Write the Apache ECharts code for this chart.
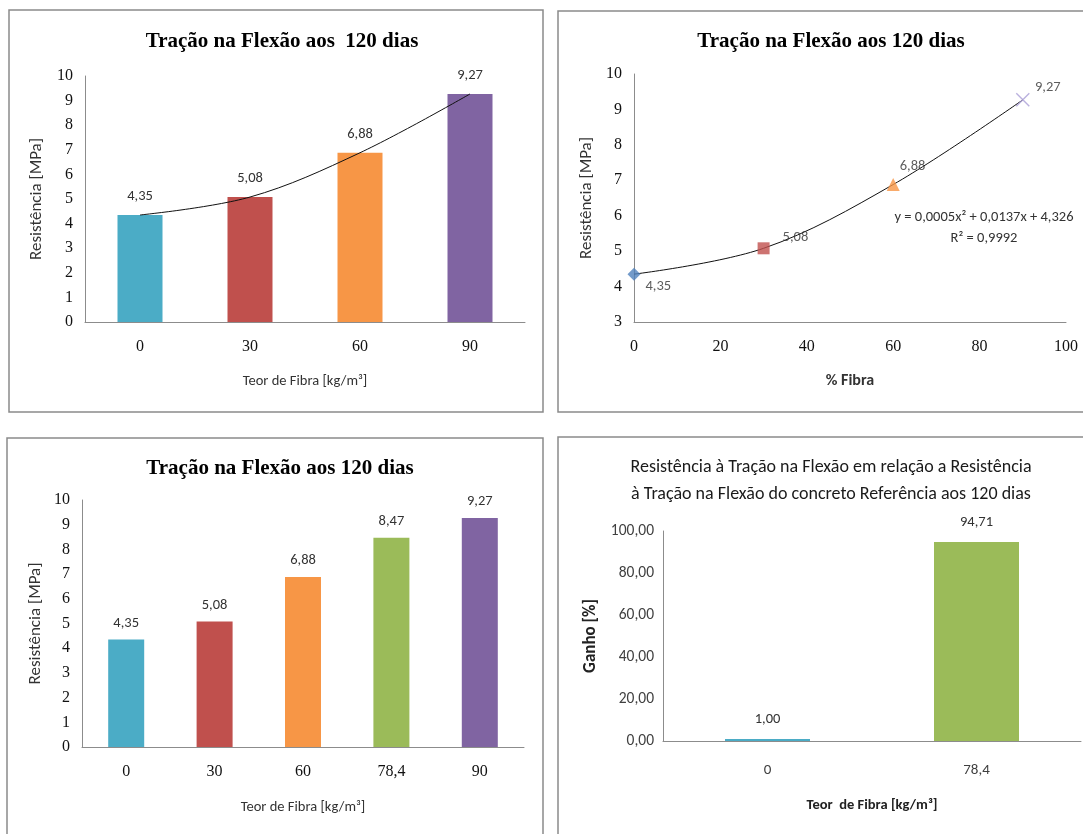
<!DOCTYPE html>
<html>
<head>
<meta charset="utf-8">
<title>Tração na Flexão aos 120 dias</title>
<script src="https://cdn.jsdelivr.net/npm/echarts@6/dist/echarts.min.js"></script>
<style>
  html, body { margin: 0; padding: 0; background: #fff; }
  #chart { width: 1083px; height: 834px; }
</style>
</head>
<body>
<div id="chart"></div>
<script>
// ---- data ----
const teorCats = ['0', '30', '60', '90'];
const resistencia = [4.35, 5.08, 6.88, 9.27];

const fibraPct = [0, 30, 60, 90];
const resistenciaPct = [4.35, 5.08, 6.88, 9.27];
const trendEquation = 'y = 0,0005x\u00B2 + 0,0137x + 4,326';
const trendR2 = 'R\u00B2 = 0,9992';

const teorCatsAll = ['0', '30', '60', '78,4', '90'];
const resistenciaAll = [4.35, 5.08, 6.88, 8.47, 9.27];

const ganhoCats = ['0', '78,4'];
const ganho = [1.00, 94.71];

// ---- styles ----
const barColors4 = ['#4BACC6', '#C0504D', '#F79646', '#8064A2'];
const barColors5 = ['#4BACC6', '#C0504D', '#F79646', '#9BBB59', '#8064A2'];
const ganhoColors = ['#4BACC6', '#9BBB59'];
const markerStyles = [
  { symbol: 'diamond', size: 13, color: '#4F81BD' },
  { symbol: 'rect', size: 12, color: '#C0504D' },
  { symbol: 'triangle', size: 13, color: '#F79646' },
  { symbol: 'path://M0,0L10,10M10,0L0,10', size: 13, color: '#A99ED6' }
];
const markerLabelOffsets = [[0, 12], [8, -11], [-5, -18], [0, -12]];

const SERIF = '"Liberation Serif", "Times New Roman", serif';
const SANS = 'Carlito, Lato, "Open Sans", sans-serif';
const comma = (v, d) => v.toFixed(d).replace('.', ',');

const axisLine = { show: true, lineStyle: { color: '#8C8C8C', width: 1 } };
const serifTicks = { fontFamily: SERIF, fontSize: 16, color: '#111' };
const sansName = { fontFamily: SANS, fontSize: 14.5, color: '#333' };
const sansNameV = { fontFamily: SANS, fontSize: 17, color: '#333' };

function catAxis(idx, cats, margin) {
  return {
    type: 'category', gridIndex: idx, data: cats,
    axisLine, axisTick: { show: false },
    axisLabel: Object.assign({ margin }, serifTicks)
  };
}
function valAxis(idx, min, max, interval, fmt, labelStyle, margin) {
  return {
    type: 'value', gridIndex: idx, min, max, interval,
    axisLine, axisTick: { show: false }, splitLine: { show: false },
    axisLabel: Object.assign({ margin, formatter: fmt }, labelStyle)
  };
}

const chart = echarts.init(document.getElementById('chart'), null, { renderer: 'canvas' });

const xAxes = [
  Object.assign(catAxis(0, teorCats, 17), {
    name: 'Teor de Fibra [kg/m\u00B3]', nameLocation: 'middle', nameGap: 52, nameTextStyle: sansName
  }),
  {
    type: 'value', gridIndex: 1, min: 0, max: 100, interval: 20,
    axisLine, axisTick: { show: false }, splitLine: { show: false },
    axisLabel: Object.assign({ margin: 17 }, serifTicks),
    name: '% Fibra', nameLocation: 'middle', nameGap: 51,
    nameTextStyle: Object.assign({}, sansName, { fontSize: 16, fontWeight: 'bold' })
  },
  Object.assign(catAxis(2, teorCatsAll, 17), {
    name: 'Teor de Fibra [kg/m\u00B3]', nameLocation: 'middle', nameGap: 53, nameTextStyle: sansName
  }),
  {
    type: 'category', gridIndex: 3, data: ganhoCats,
    axisLine, axisTick: { show: false },
    axisLabel: { margin: 22, fontFamily: SANS, fontSize: 15, color: '#404040' },
    name: 'Teor  de Fibra [kg/m\u00B3]', nameLocation: 'middle', nameGap: 57,
    nameTextStyle: Object.assign({}, sansName, { fontWeight: 'bold', color: '#222' })
  }
];

const yAxes = [
  Object.assign(valAxis(0, 0, 10, 1, null, serifTicks, 12), {
    name: 'Resist\u00EAncia [MPa]', nameLocation: 'middle', nameGap: 40, nameTextStyle: sansNameV
  }),
  Object.assign(valAxis(1, 3, 10, 1, null, serifTicks, 12), {
    name: 'Resist\u00EAncia [MPa]', nameLocation: 'middle', nameGap: 39, nameTextStyle: sansNameV
  }),
  Object.assign(valAxis(2, 0, 10, 1, null, serifTicks, 12), {
    name: 'Resist\u00EAncia [MPa]', nameLocation: 'middle', nameGap: 38, nameTextStyle: sansNameV
  }),
  Object.assign(valAxis(3, 0, 100, 20, v => comma(v, 2),
    { fontFamily: SANS, fontSize: 15.5, color: '#404040' }, 9), {
    name: 'Ganho [%]', nameLocation: 'middle', nameGap: 64,
    nameTextStyle: Object.assign({}, sansNameV, { fontWeight: 'bold', color: '#222' })
  })
];

const barLabel = (dist) => ({
  show: true, position: 'top', distance: dist,
  fontFamily: SANS, fontSize: 14.5, color: '#333',
  formatter: p => comma(p.value, 2)
});

const series = [
  {
    type: 'bar', xAxisIndex: 0, yAxisIndex: 0, barWidth: 45,
    data: resistencia.map((v, i) => ({ value: v, itemStyle: { color: barColors4[i] } })),
    label: barLabel(11)
  },
  {
    type: 'line', xAxisIndex: 0, yAxisIndex: 0, data: resistencia,
    smooth: 0.35, symbol: 'none', z: 5,
    lineStyle: { color: '#111', width: 1 }
  },
  {
    type: 'line', xAxisIndex: 1, yAxisIndex: 1,
    data: fibraPct.map((x, i) => [x, resistenciaPct[i]]),
    smooth: 0.35, symbol: 'none', z: 2,
    lineStyle: { color: '#111', width: 1 }
  },
  {
    type: 'scatter', xAxisIndex: 1, yAxisIndex: 1, z: 3,
    data: fibraPct.map((x, i) => {
      const m = markerStyles[i];
      const isCross = m.symbol.startsWith('path://');
      return {
        value: [x, resistenciaPct[i]],
        symbol: m.symbol, symbolSize: m.size,
        itemStyle: isCross
          ? { color: 'rgba(0,0,0,0)', borderColor: m.color, borderWidth: 1.4 }
          : { color: m.color },
        label: { offset: markerLabelOffsets[i] }
      };
    }),
    label: {
      show: true, position: 'right', distance: 5,
      fontFamily: SANS, fontSize: 14.5, color: '#333',
      formatter: p => comma(p.value[1], 2)
    }
  },
  {
    type: 'bar', xAxisIndex: 2, yAxisIndex: 2, barWidth: 36,
    data: resistenciaAll.map((v, i) => ({ value: v, itemStyle: { color: barColors5[i] } })),
    label: barLabel(9)
  },
  {
    type: 'bar', xAxisIndex: 3, yAxisIndex: 3, barWidth: 85,
    data: ganho.map((v, i) => ({ value: v, itemStyle: { color: ganhoColors[i] } })),
    label: barLabel(12)
  }
];

const panelBorder = (x, y, w, h) => ({
  type: 'rect', z: -1, silent: true,
  shape: { x, y, width: w, height: h },
  style: { fill: 'none', stroke: '#8A8A8A', lineWidth: 1.5 }
});

const titleStyle = { fontFamily: SERIF, fontSize: 21, fontWeight: 'bold', color: '#000' };

chart.setOption({
  animation: false,
  backgroundColor: '#fff',
  title: [
    { text: 'Tra\u00E7\u00E3o na Flex\u00E3o aos  120 dias', left: 277, top: 26, textAlign: 'center', textStyle: titleStyle },
    { text: 'Tra\u00E7\u00E3o na Flex\u00E3o aos 120 dias', left: 826, top: 26, textAlign: 'center', textStyle: titleStyle },
    { text: 'Tra\u00E7\u00E3o na Flex\u00E3o aos 120 dias', left: 275, top: 453, textAlign: 'center', textStyle: titleStyle },
    {
      text: 'Resist\u00EAncia \u00E0 Tra\u00E7\u00E3o na Flex\u00E3o em rela\u00E7\u00E3o a Resist\u00EAncia\n\u00E0 Tra\u00E7\u00E3o na Flex\u00E3o do concreto Refer\u00EAncia aos 120 dias',
      left: 826, top: 449, textAlign: 'center',
      textStyle: { fontFamily: SANS, fontSize: 18, fontWeight: 'normal', color: '#1A1A1A', lineHeight: 27 }
    }
  ],
  grid: [
    { left: 85, top: 76, right: 558, bottom: 512 },
    { left: 634, top: 74, right: 17, bottom: 512 },
    { left: 82, top: 500, right: 559, bottom: 87 },
    { left: 663, top: 531, right: 2, bottom: 93 }
  ],
  xAxis: xAxes,
  yAxis: yAxes,
  series,
  graphic: [
    panelBorder(9, 10, 534, 402),
    panelBorder(558, 11, 540, 401),
    panelBorder(7, 438, 536, 420),
    panelBorder(558, 437, 540, 420),
    {
      type: 'text', silent: true, x: 984, y: 228,
      style: {
        text: trendEquation + '\n' + trendR2, align: 'center', verticalAlign: 'middle',
        fontFamily: SANS, fontSize: 14.5, fill: '#333', lineHeight: 21
      }
    }
  ]
});
</script>
</body>
</html>
